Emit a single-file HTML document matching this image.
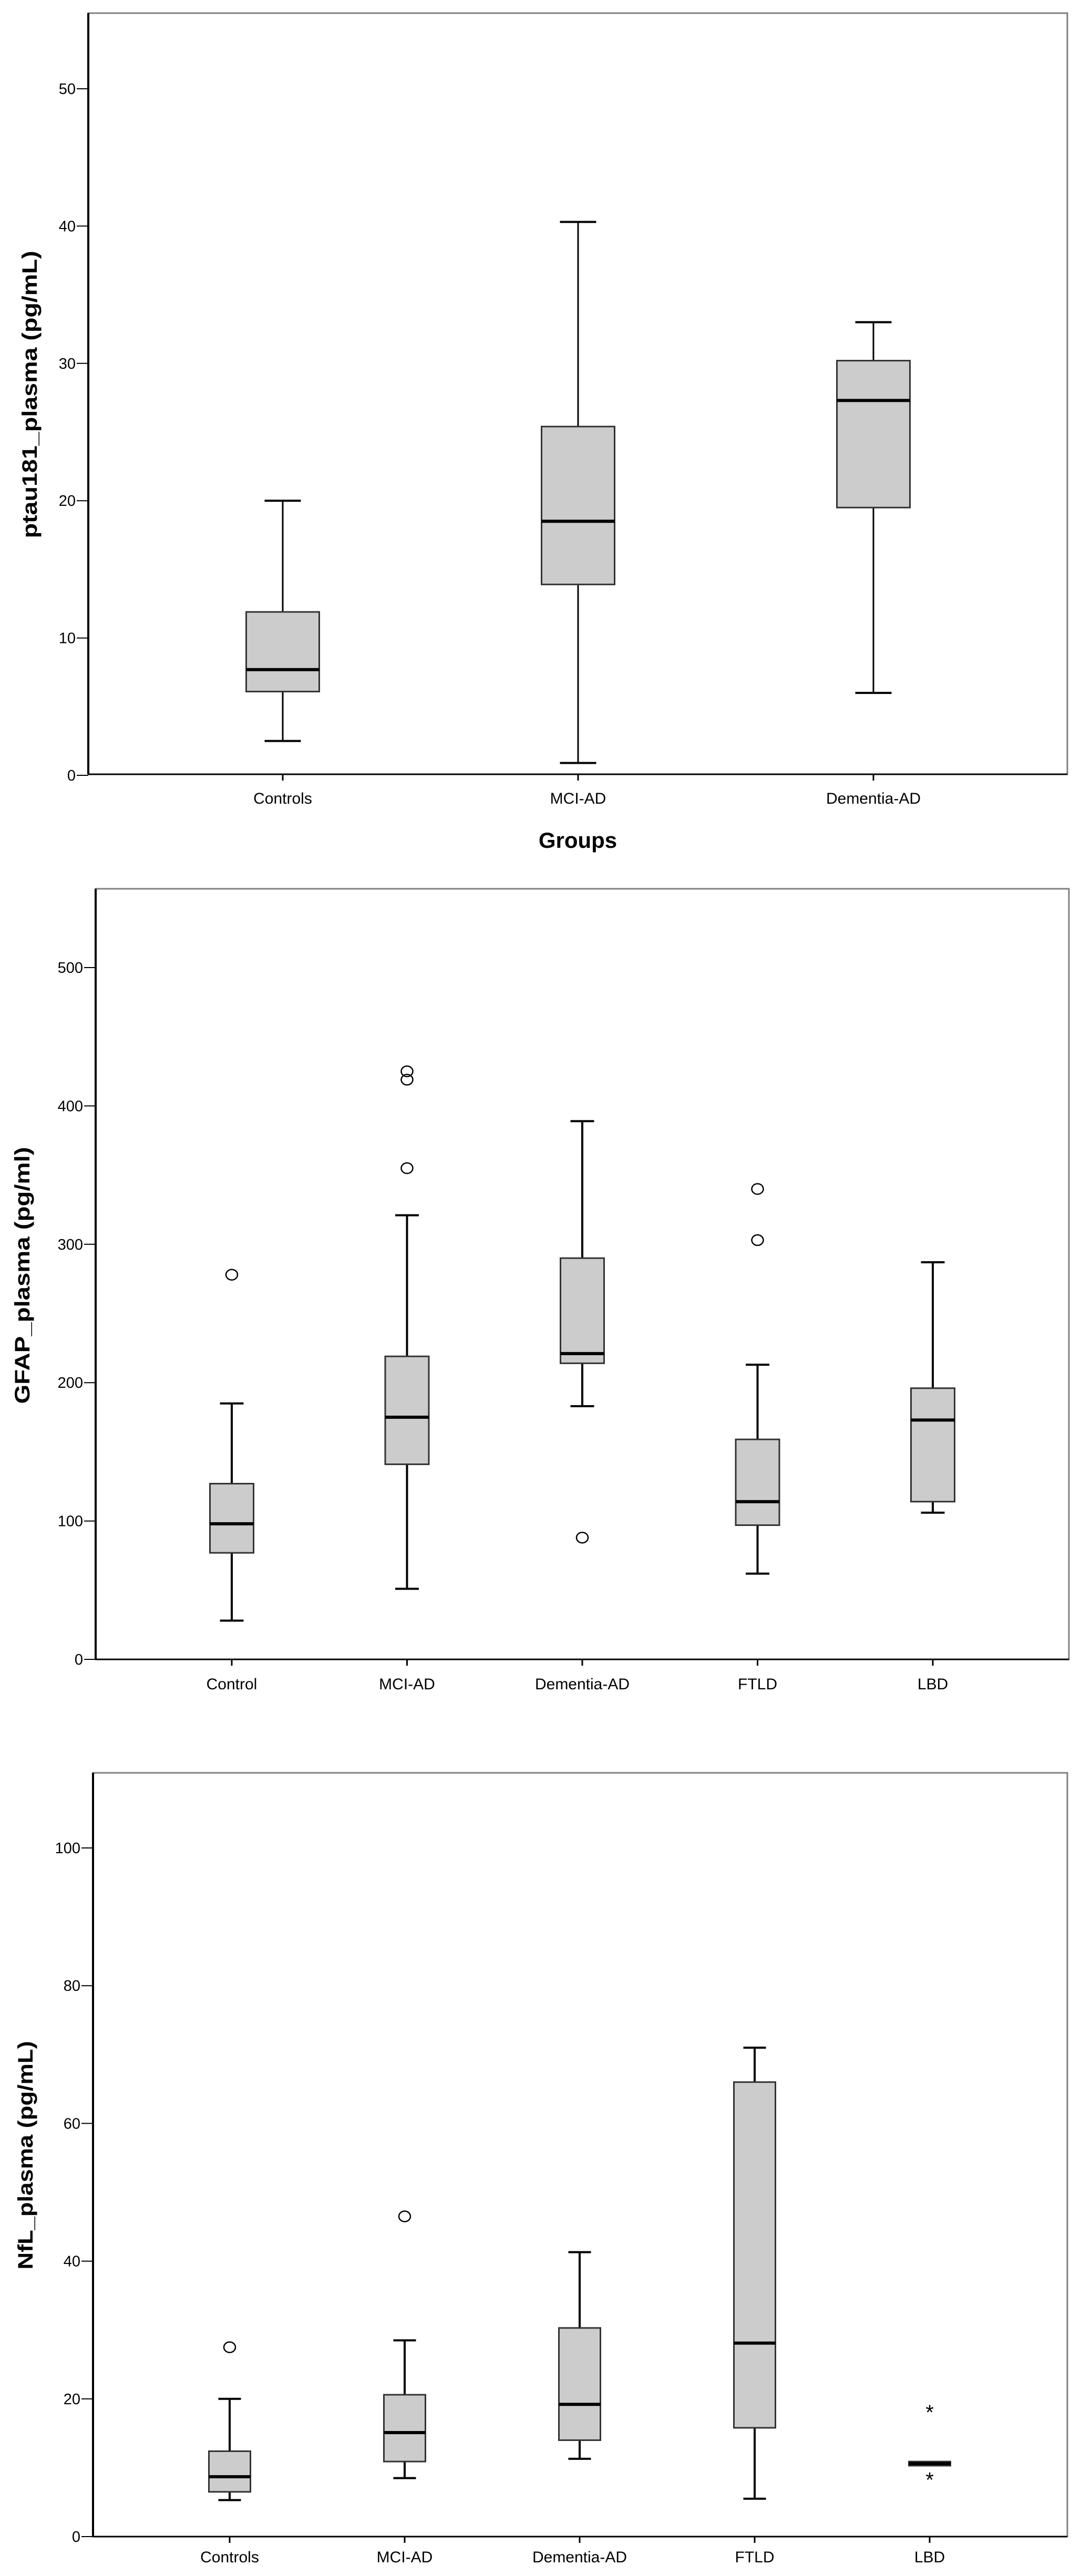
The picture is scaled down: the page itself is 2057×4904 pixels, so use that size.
<!DOCTYPE html>
<html><head><meta charset="utf-8"><style>
html,body{margin:0;padding:0;background:#fff;}
svg{display:block;font-family:"Liberation Sans",Arial,sans-serif;}
</style></head><body>
<svg id="fig" width="2057" height="4904" viewBox="0 0 2057 4904"></svg>
<script>
// ---- Chart 1 data: ptau181 ----
const c1Categories = ["Controls","MCI-AD","Dementia-AD"];
const c1Low = [2.5, 0.9, 6.0];
const c1Q1 = [6.1, 13.9, 19.5];
const c1Median = [7.7, 18.5, 27.3];
const c1Q3 = [11.9, 25.4, 30.2];
const c1High = [20.0, 40.3, 33.0];
const c1Ticks = [0,10,20,30,40,50];
// ---- Chart 2 data: GFAP ----
const c2Categories = ["Control","MCI-AD","Dementia-AD","FTLD","LBD"];
const c2Low = [28, 51, 183, 62, 106];
const c2Q1 = [77, 141, 214, 97, 114];
const c2Median = [98, 175, 221, 114, 173];
const c2Q3 = [127, 219, 290, 159, 196];
const c2High = [185, 321, 389, 213, 287];
const c2Outliers = [[278],[425,419,355],[88],[340,303],[]];
const c2Ticks = [0,100,200,300,400,500];
// ---- Chart 3 data: NfL ----
const c3Categories = ["Controls","MCI-AD","Dementia-AD","FTLD","LBD"];
const c3Low = [5.3, 8.5, 11.3, 5.5, 10.3];
const c3Q1 = [6.5, 10.9, 14.0, 15.8, 10.3];
const c3Median = [8.7, 15.1, 19.2, 28.1, 10.6];
const c3Q3 = [12.4, 20.6, 30.3, 66.0, 10.9];
const c3High = [20.0, 28.5, 41.3, 71.0, 10.9];
const c3Outliers = [[27.5],[46.5],[],[],[]];
const c3Extremes = [[],[],[],[],[18.4, 8.6]];
const c3Ticks = [0,20,40,60,80,100];

const NS = "http://www.w3.org/2000/svg";
const svg = document.getElementById("fig");
function mk(tag, attrs, parent){
  const e = document.createElementNS(NS, tag);
  for (const k in attrs) e.setAttribute(k, attrs[k]);
  (parent||svg).appendChild(e);
  return e;
}

function drawChart(o){
  const g = mk("g", {});
  
  
  const y = v => o.y0 + (v - o.t0) * (o.y1 - o.y0) / (o.t1 - o.t0);
  const x = i => o.xs0 + i * o.xstep;
  // frame
  const fr = mk("rect", {x:o.left, y:o.top, width:o.right-o.left, height:o.bottom-o.top, fill:"#fff", stroke:"#808080", "stroke-width":3}, g);
  
  
  const ya = mk("line", {x1:o.left, y1:o.top, x2:o.left, y2:o.bottom, stroke:"#000", "stroke-width":4}, g);
  
  
  const xa = mk("line", {x1:o.left, y1:o.bottom, x2:o.right, y2:o.bottom, stroke:"#000", "stroke-width":3}, g);
  
  
  // y ticks
  o.ticks.forEach(t => {
    const ty = y(t);
    const tl = mk("line", {x1:o.left-22, y1:ty, x2:o.left, y2:ty, stroke:"#000", "stroke-width":2}, g);
    
    
    const tx = mk("text", {x:o.left-24, y:ty+10, "text-anchor":"end", "font-size":29, fill:"#000"}, g);
    tx.textContent = t;
    
    
  });
  // y title
  const yt = mk("text", {x:0, y:0, transform:`translate(${o.ytx},${o.yty}) rotate(-90)`, "text-anchor":"middle", "font-size":40, "font-weight":"bold", textLength:o.ytLen, lengthAdjust:"spacingAndGlyphs"}, g);
  yt.textContent = o.ytitle;
  
  
  o.cats.forEach((c, i) => {
    const cx = x(i);
    const bt = mk("line", {x1:cx, y1:o.bottom, x2:cx, y2:o.bottom+12, stroke:"#000", "stroke-width":3}, g);
    
    
    const lb = mk("text", {x:cx, y:o.labelY, "text-anchor":"middle", "font-size":30}, g);
    lb.textContent = c;
    
    
    const bg = mk("g", {}, g);
    
    
    const hw = o.bw/2, cw = o.cw/2;
    if (o.high[i] > o.q3[i]) {
      const w = mk("line", {x1:cx, y1:y(o.q3[i]), x2:cx, y2:y(o.high[i]), stroke:"#000", "stroke-width":o.wsw}, bg);
      
      
      const cp = mk("line", {x1:cx-cw, y1:y(o.high[i]), x2:cx+cw, y2:y(o.high[i]), stroke:"#000", "stroke-width":4}, bg);
      
      
    }
    if (o.low[i] < o.q1[i]) {
      const w = mk("line", {x1:cx, y1:y(o.q1[i]), x2:cx, y2:y(o.low[i]), stroke:"#000", "stroke-width":o.wsw}, bg);
      
      
      const cp = mk("line", {x1:cx-cw, y1:y(o.low[i]), x2:cx+cw, y2:y(o.low[i]), stroke:"#000", "stroke-width":4}, bg);
      
      
    }
    const top = y(o.q3[i]), bot = y(o.q1[i]);
    const r = mk("rect", {x:cx-hw, y:top, width:o.bw, height:Math.max(bot-top,1), fill:"#cccccc", stroke:"#333", "stroke-width":3}, bg);
    
    
    const m = mk("line", {x1:cx-hw, y1:y(o.med[i]), x2:cx+hw, y2:y(o.med[i]), stroke:"#000", "stroke-width":6}, bg);
    
    
    (o.outliers ? o.outliers[i] : []).forEach(v => {
      const ci = mk("ellipse", {cx:cx, cy:y(v), rx:11, ry:10, fill:"none", stroke:"#000", "stroke-width":2.5}, bg);
      
      
    });
    (o.extremes ? o.extremes[i] : []).forEach(v => {
      const st = mk("text", {x:cx, y:y(v)+18, "text-anchor":"middle", "font-size":40}, bg);
      st.textContent = "*";
      
      
    });
  });
  if (o.xtitle) {
    const xt = mk("text", {x:(o.left+o.right)/2, y:o.xtY, "text-anchor":"middle", "font-size":42, "font-weight":"bold"}, g);
    xt.textContent = o.xtitle;
    
    
  }
}

drawChart({name:"ptau181-chart", left:168, right:2031, top:25, bottom:1474,
  t0:0, t1:50, y0:1476, y1:169, ticks:c1Ticks,
  xs0:538, xstep:562, bw:139, cw:69, wsw:3,
  cats:c1Categories, low:c1Low, q1:c1Q1, med:c1Median, q3:c1Q3, high:c1High,
  ytitle:"ptau181_plasma (pg/mL)", ytx:70, yty:751, ytLen:547,
  labelY:1530, xtitle:"Groups", xtY:1614});

drawChart({name:"gfap-chart", left:182, right:2034, top:1692, bottom:3159,
  t0:0, t1:500, y0:3159, y1:1842, ticks:c2Ticks,
  xs0:441, xstep:333.5, bw:83, cw:45, wsw:4,
  cats:c2Categories, low:c2Low, q1:c2Q1, med:c2Median, q3:c2Q3, high:c2High, outliers:c2Outliers,
  ytitle:"GFAP_plasma (pg/ml)", ytx:56, yty:2428, ytLen:489,
  labelY:3216});

drawChart({name:"nfl-chart", left:177, right:2031, top:3375, bottom:4829,
  t0:0, t1:100, y0:4829, y1:3518, ticks:c3Ticks,
  xs0:437, xstep:333, bw:79, cw:43, wsw:4,
  cats:c3Categories, low:c3Low, q1:c3Q1, med:c3Median, q3:c3Q3, high:c3High, outliers:c3Outliers, extremes:c3Extremes,
  ytitle:"NfL_plasma (pg/mL)", ytx:62, yty:4103, ytLen:435,
  labelY:4878});
</script>
</body></html>
